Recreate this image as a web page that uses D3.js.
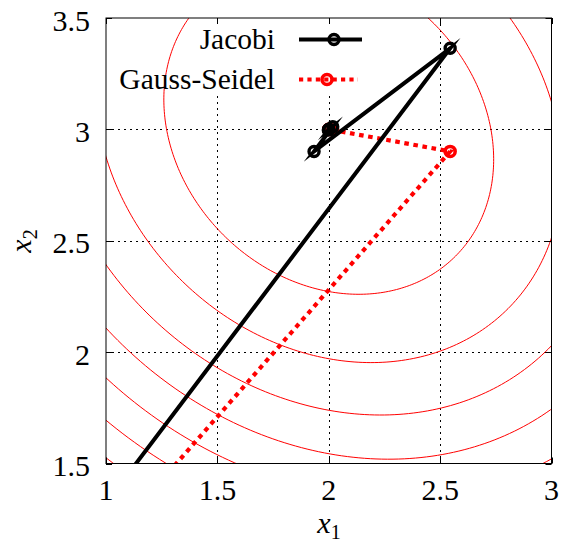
<!DOCTYPE html>
<html><head><meta charset="utf-8">
<script src="https://cdn.jsdelivr.net/npm/d3@7"></script>
<style>
body{margin:0;background:#fff}
svg{display:block}
svg text{font-family:"Liberation Serif","DejaVu Serif",serif}
</style>
</head><body>
<svg id="chart" width="561" height="544"></svg>
<script>
// ---- data ----
const xTicks = [1, 1.5, 2, 2.5, 3];
const yTicks = [1.5, 2, 2.5, 3, 3.5];
const xTickLabels = ["1", "1.5", "2", "2.5", "3"];
const yTickLabels = ["1.5", "2", "2.5", "3", "3.5"];
const seriesNames = ["Jacobi", "Gauss-Seidel"];
const jacobiX = [0, 2.545, 1.934, 2.018, 1.998, 2.0006, 1.9999];
const jacobiY = [0, 3.364, 2.901, 3.012, 2.997, 3.0004, 2.9999];
const gaussX = [0, 2.545, 2.018, 2.0006, 2.0000];
const gaussY = [0, 2.901, 2.997, 2.9999, 3.0000];
const contourCenter = [2, 3];
const contourCoupling = 0.1818;
const contourLevels = [0.53, 1.06, 1.59, 2.12, 2.65, 3.18, 3.71];

// ---- layout ----
const L = 106, R = 551.5, T = 18, B = 463.5;
const x = d3.scaleLinear().domain([1, 3]).range([L, R]);
const y = d3.scaleLinear().domain([1.5, 3.5]).range([B, T]);
const svg = d3.select("#chart");
const font = "'Liberation Serif', 'DejaVu Serif', serif";

svg.append("defs").append("clipPath").attr("id", "plotclip")
  .append("rect").attr("x", L).attr("y", T).attr("width", R - L).attr("height", B - T);

// grid
const grid = svg.append("g").attr("stroke", "#000").attr("stroke-width", 1)
  .attr("stroke-dasharray", "2,4").attr("fill", "none");
xTicks.slice(1, -1).forEach(t => {
  grid.append("line").attr("x1", Math.round(x(t)) + 0.5).attr("x2", Math.round(x(t)) + 0.5)
    .attr("y1", T).attr("y2", B);
});
yTicks.slice(1, -1).forEach(t => {
  grid.append("line").attr("y1", Math.round(y(t)) + 0.5).attr("y2", Math.round(y(t)) + 0.5)
    .attr("x1", L).attr("x2", R);
});

// contours (level sets of quadratic form)
const plot = svg.append("g").attr("clip-path", "url(#plotclip)");
const c = contourCoupling;
const line = d3.line().x(d => x(d[0])).y(d => y(d[1]));
contourLevels.forEach(lv => {
  const s = Math.sqrt(lv);
  const pts = d3.range(0, 361).map(i => {
    const th = i / 360 * 2 * Math.PI;
    const u = s * Math.cos(th) / Math.sqrt(1 + c);
    const v = s * Math.sin(th) / Math.sqrt(1 - c);
    return [contourCenter[0] + (u + v) / Math.SQRT2, contourCenter[1] + (u - v) / Math.SQRT2];
  });
  plot.append("path").attr("d", line(pts)).attr("fill", "none")
    .attr("stroke", "#ff0000").attr("stroke-width", 1);
});

const gs = gaussX.map((v, i) => [v, gaussY[i]]);
const jac = jacobiX.map((v, i) => [v, jacobiY[i]]);

// Gauss-Seidel
plot.append("path").attr("d", line(gs)).attr("fill", "none")
  .attr("stroke", "#ff0000").attr("stroke-width", 4.2)
  .attr("stroke-dasharray", "4.6,4.6").attr("stroke-linejoin", "miter");
plot.selectAll(".gsm").data(gs).enter().append("circle")
  .attr("cx", d => x(d[0])).attr("cy", d => y(d[1])).attr("r", 5)
  .attr("fill", "none").attr("stroke", "#ff0000").attr("stroke-width", 3.6);

// Jacobi
plot.append("path").attr("d", line(jac)).attr("fill", "none")
  .attr("stroke", "#000").attr("stroke-width", 4)
  .attr("stroke-linejoin", "miter").attr("stroke-miterlimit", 20);
plot.selectAll(".jm").data(jac).enter().append("circle")
  .attr("cx", d => x(d[0])).attr("cy", d => y(d[1])).attr("r", 5)
  .attr("fill", "none").attr("stroke", "#000").attr("stroke-width", 3.4);

// legend (opaque box)
svg.append("rect").attr("x", 190).attr("y", 24).attr("width", 180).attr("height", 72)
  .attr("fill", "#fff");
const lg = svg.append("g");
lg.append("text").attr("x", 275).attr("y", 49).attr("text-anchor", "end")
  .style("font-family", font).attr("font-size", 29.5).text(seriesNames[0]);
lg.append("text").attr("x", 275).attr("y", 89).attr("text-anchor", "end")
  .style("font-family", font).attr("font-size", 29.5).text(seriesNames[1]);
lg.append("line").attr("x1", 299).attr("x2", 362).attr("y1", 39.5).attr("y2", 39.5)
  .attr("stroke", "#000").attr("stroke-width", 4);
lg.append("circle").attr("cx", 334).attr("cy", 39.5).attr("r", 5)
  .attr("fill", "none").attr("stroke", "#000").attr("stroke-width", 3.4);
lg.append("line").attr("x1", 299).attr("x2", 358).attr("y1", 79.5).attr("y2", 79.5)
  .attr("stroke", "#ff0000").attr("stroke-width", 4.2).attr("stroke-dasharray", "4.2,4.2");
lg.append("circle").attr("cx", 327).attr("cy", 79.5).attr("r", 5)
  .attr("fill", "none").attr("stroke", "#ff0000").attr("stroke-width", 3.6);

// border
svg.append("rect").attr("x", L).attr("y", T).attr("width", R - L).attr("height", B - T)
  .attr("fill", "none").attr("stroke", "#000").attr("stroke-width", 1);

// ticks (inward, mirrored)
const tk = svg.append("g").attr("stroke", "#000").attr("stroke-width", 1);
xTicks.forEach(t => {
  const px = Math.round(x(t)) + 0.5;
  tk.append("line").attr("x1", px).attr("x2", px).attr("y1", B).attr("y2", B - 6);
  tk.append("line").attr("x1", px).attr("x2", px).attr("y1", T).attr("y2", T + 6);
});
yTicks.forEach(t => {
  const py = Math.round(y(t)) + 0.5;
  tk.append("line").attr("y1", py).attr("y2", py).attr("x1", L).attr("x2", L + 6);
  tk.append("line").attr("y1", py).attr("y2", py).attr("x1", R).attr("x2", R - 6);
});

// tick labels
xTicks.forEach((t, i) => {
  svg.append("text").attr("x", x(t)).attr("y", 499.5).attr("text-anchor", "middle")
    .style("font-family", font).attr("font-size", 30).text(xTickLabels[i]);
});
yTicks.forEach((t, i) => {
  svg.append("text").attr("x", 90).attr("y", y(t) + 12.5).attr("text-anchor", "end")
    .style("font-family", font).attr("font-size", 30).text(yTickLabels[i]);
});

// axis titles
const xt = svg.append("text").attr("x", 329).attr("y", 533).attr("text-anchor", "middle")
  .style("font-family", font).attr("font-size", 30);
xt.append("tspan").attr("font-style", "italic").text("x");
xt.append("tspan").attr("font-size", 20).attr("dy", 6).text("1");

const yt = svg.append("text").attr("transform", "translate(31,241) rotate(-90)")
  .attr("text-anchor", "middle").style("font-family", font).attr("font-size", 30);
yt.append("tspan").attr("font-style", "italic").text("x");
yt.append("tspan").attr("font-size", 20).attr("dy", 6).text("2");
</script>
</body></html>
